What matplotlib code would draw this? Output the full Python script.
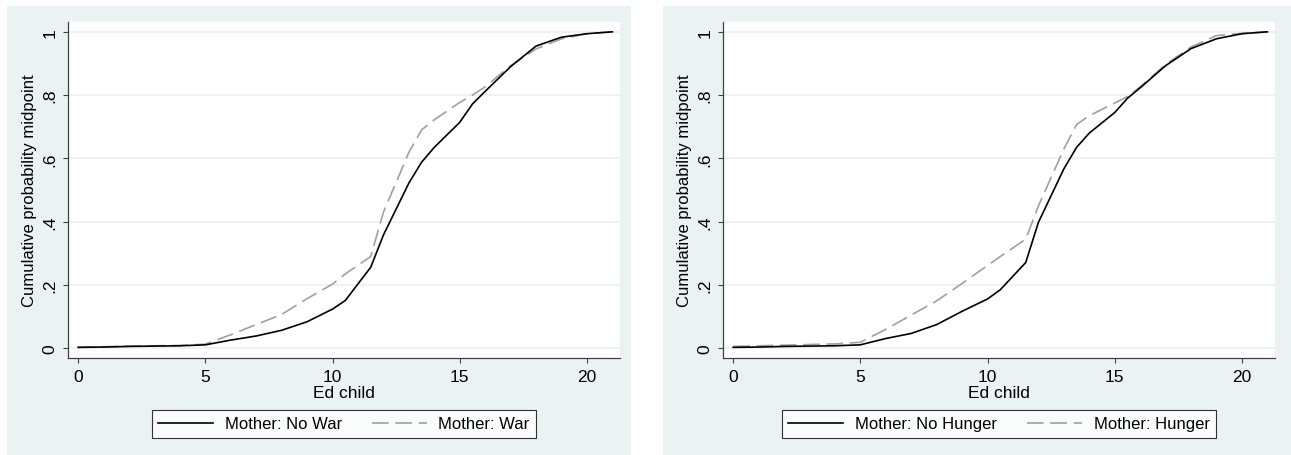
import matplotlib
matplotlib.use("Agg")
import matplotlib.pyplot as plt
from matplotlib.patches import Rectangle

plt.rcParams['font.family'] = ['Liberation Sans', 'DejaVu Sans']

# years of schooling of the child
ed = [0, 1, 2, 3, 4, 5, 6, 7, 8, 9, 10, 10.5, 11.5, 12, 13, 13.5, 14, 15, 15.5, 16, 17, 18, 19, 20, 21]

# cumulative probability midpoints by mother's exposure
no_war = [0.003, 0.004, 0.006, 0.007, 0.008, 0.011, 0.026, 0.039, 0.057, 0.084, 0.124, 0.151, 0.256,
          0.358, 0.522, 0.588, 0.635, 0.714, 0.772, 0.812, 0.89, 0.955, 0.983, 0.994, 1.0]
war = [0.004, 0.005, 0.007, 0.008, 0.009, 0.013, 0.043, 0.075, 0.107, 0.157, 0.203, 0.235, 0.29,
       0.43, 0.619, 0.69, 0.722, 0.777, 0.80, 0.826, 0.893, 0.946, 0.978, 0.994, 1.0]
no_hunger = [0.003, 0.004, 0.006, 0.007, 0.008, 0.011, 0.031, 0.047, 0.075, 0.117, 0.156, 0.185, 0.271,
             0.398, 0.567, 0.635, 0.68, 0.745, 0.79, 0.823, 0.893, 0.947, 0.978, 0.994, 1.0]
hunger = [0.006, 0.008, 0.010, 0.012, 0.014, 0.019, 0.06, 0.105, 0.15, 0.205, 0.262, 0.29, 0.345,
          0.45, 0.63, 0.707, 0.735, 0.775, 0.795, 0.826, 0.897, 0.952, 0.988, 0.995, 1.0]

yticks = [0, 0.2, 0.4, 0.6, 0.8, 1]
ytick_labels = ["0", ".2", ".4", ".6", ".8", "1"]
xticks = [0, 5, 10, 15, 20]

BG = '#eaf2f3'
W, H = 1291, 456
FS = 12

fig = plt.figure(figsize=(W / 100, H / 100), dpi=100)
fig.patch.set_facecolor('white')

# graph regions behind each panel
for x0, x1 in [(7, 631), (663, 1291)]:
    fig.patches.append(Rectangle((x0 / W, 0), (x1 - x0) / W, (H - 7) / H,
                                 transform=fig.transFigure, facecolor=BG,
                                 edgecolor='none', zorder=-5))

panels = [
    (68, no_war, war, "Mother: No War", "Mother: War"),
    (723, no_hunger, hunger, "Mother: No Hunger", "Mother: Hunger"),
]

for left_px, solid, dashed, lab1, lab2 in panels:
    ax = fig.add_axes([left_px / W, (H - 359) / H, 552 / W, 336 / H])
    ax.set_zorder(1)
    ax.set_facecolor('white')
    ax.set_xlim(-0.4, 21.3)
    ax.set_ylim(-0.0306, 1.031)

    for yv in yticks:
        ax.axhline(yv, color=BG, lw=1.3, zorder=1)

    ax.plot(ed, solid, color='black', lw=1.2, label=lab1, zorder=3)
    ax.plot(ed, dashed, color='#a0a0a0', lw=1.2, linestyle=(0, (10, 4)), label=lab2, zorder=2)

    for s in ['top', 'right']:
        ax.spines[s].set_visible(False)
    for s in ['left', 'bottom']:
        ax.spines[s].set_color('#404040')
        ax.spines[s].set_linewidth(0.9)

    ax.set_yticks(yticks)
    ax.set_yticklabels(ytick_labels, rotation=90, va='center')
    ax.set_xticks(xticks)
    ax.tick_params(direction='out', length=3.6, width=0.8, color='#404040',
                   labelsize=FS + 0.5, pad=4)
    ax.set_xlabel("Ed child", fontsize=FS + 0.5, labelpad=1)
    ax.set_ylabel("Cumulative probability midpoint", fontsize=FS, labelpad=4)

    leg = ax.legend(loc='center', ncol=2, bbox_to_anchor=((left_px + 276) / W, 1 - 425 / H),
                    bbox_transform=fig.transFigure, fontsize=FS, frameon=True, fancybox=False,
                    handlelength=3.3, handletextpad=0.72, columnspacing=1.74,
                    borderpad=0.4, edgecolor='black')
    leg.get_frame().set_linewidth(0.8)

fig.savefig("out.png", dpi=100, facecolor='white')
